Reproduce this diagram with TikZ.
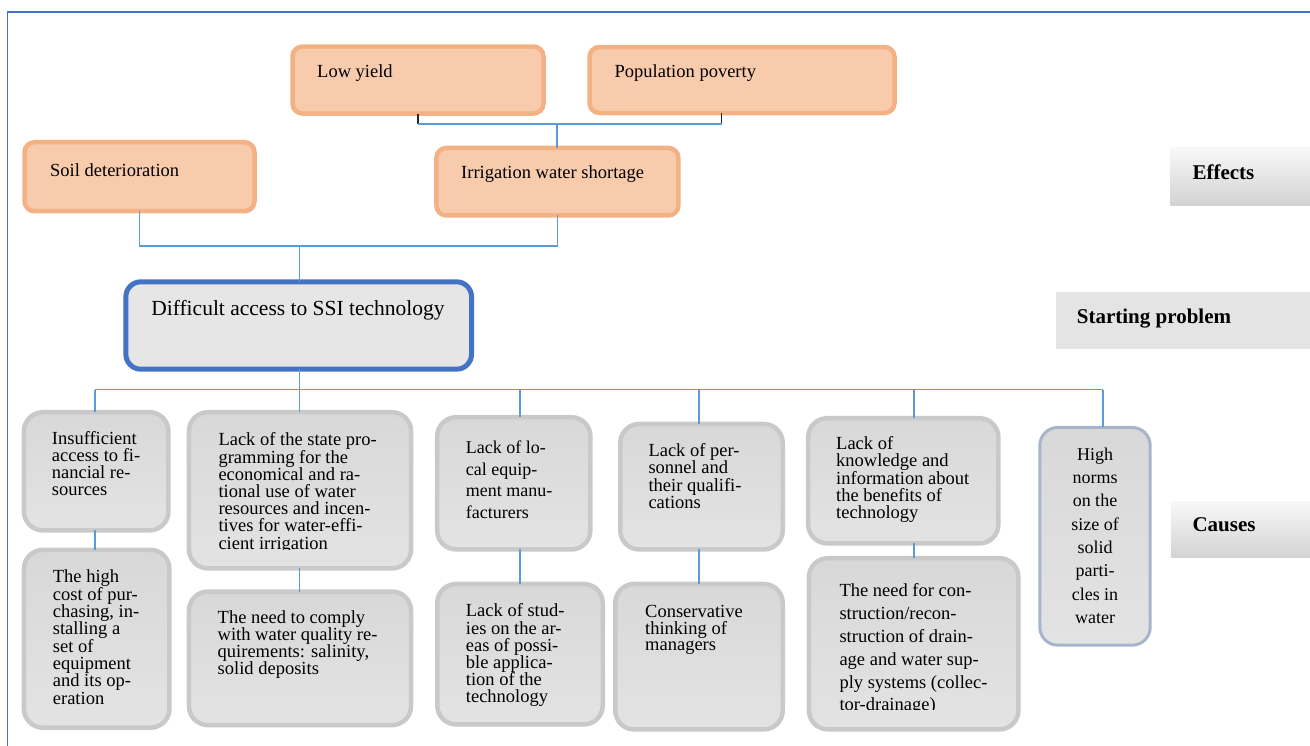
\documentclass[tikz,border=0pt]{standalone}
\usepackage{fontspec}
\setmainfont{Liberation Serif}
\definecolor{efffill}{HTML}{F8CBAD}
\definecolor{effline}{HTML}{F4B183}
\definecolor{probfill}{HTML}{E6E6E6}
\definecolor{blueline}{HTML}{4472C4}
\definecolor{linkblue}{HTML}{5B9BD5}
\definecolor{causeline}{HTML}{C9C9C9}
\definecolor{causetop}{HTML}{D8D8D8}
\definecolor{causebot}{HTML}{E3E3E3}
\definecolor{normline}{HTML}{A6B5CC}
\definecolor{labtop}{HTML}{F8F8F8}
\definecolor{labbot}{HTML}{D3D3D3}
\definecolor{labflat}{HTML}{E4E4E4}
% invisible strut: every text block starts 16pt above its first baseline
\newcommand\fl{\rule{0pt}{16pt}}
% text font with a fixed line pitch
\newcommand\cfont[2]{\fontsize{#1}{#2}\selectfont\lineskiplimit=-50pt\relax}
\tikzset{
  frame/.style={draw=blueline, line width=1.8pt},
  link/.style={draw=linkblue, line width=1.1pt},
  stub/.style={draw=black!85, line width=1.1pt},
  effbox/.style={draw=effline, fill=efffill, line width=4.5pt, rounded corners=10pt, inner sep=0pt, outer sep=0pt},
  probbox/.style={draw=blueline, fill=probfill, line width=5pt, rounded corners=15pt, inner sep=0pt, outer sep=0pt},
  causebox/.style={draw=causeline, top color=causetop, bottom color=causebot, line width=4.5pt, rounded corners=19pt, inner sep=0pt, outer sep=0pt},
  normbox/.style={draw=normline, top color=causetop, bottom color=causebot, line width=3pt, rounded corners=18pt, inner sep=0pt, outer sep=0pt},
  labgrad/.style={top color=labtop, bottom color=labbot, draw=none, inner sep=0pt, outer sep=0pt, anchor=north west},
  labflatbox/.style={fill=labflat, draw=none, inner sep=0pt, outer sep=0pt, anchor=north west},
  txt/.style={anchor=north west, inner sep=0pt, align=left},
  labtxt/.style={txt, font=\fontsize{21}{22}\selectfont\bfseries},
}
\begin{document}
\begin{tikzpicture}[x=1pt,y=-1pt]
\useasboundingbox (0,0) rectangle (1310,745);

% outer frame
\draw[frame] (1312,11.7) -- (7.5,11.7) -- (7.5,747);

% ---- effects ----
\node[effbox, minimum width=251pt, minimum height=67pt] (lowyield) at (418,80) {};
\node[effbox, minimum width=305pt, minimum height=66pt] (poverty) at (742,80) {};
\node[effbox, minimum width=230pt, minimum height=69pt] (soil) at (139.5,176.7) {};
\node[effbox, minimum width=242pt, minimum height=67.5pt] (irrig) at (557.4,181.7) {};

% ---- starting problem ----
\node[probbox, minimum width=345.7pt, minimum height=87.4pt] (problem) at (298.7,325.5) {};

% ---- causes ----
\node[causebox, minimum width=144.5pt, minimum height=118.2pt] (c1) at (96.2,471.3) {};
\node[causebox, minimum width=145.5pt, minimum height=177.8pt] (c1b) at (96.7,638.8) {};
\node[causebox, minimum width=222.1pt, minimum height=156.2pt] (c2) at (300,490.3) {};
\node[causebox, minimum width=222.1pt, minimum height=133.5pt] (c2b) at (300,658.3) {};
\node[causebox, minimum width=153.2pt, minimum height=132.2pt] (c3) at (513.8,483.3) {};
\node[causebox, minimum width=165.5pt, minimum height=140.5pt] (c3b) at (520,654.2) {};
\node[causebox, minimum width=162.5pt, minimum height=125.5pt] (c4) at (701.5,486.7) {};
\node[causebox, minimum width=167.5pt, minimum height=145.5pt] (c4b) at (699,656.7) {};
\node[causebox, minimum width=190.2pt, minimum height=125.2pt] (c5) at (903.3,480.8) {};
\node[causebox, minimum width=209.5pt, minimum height=171.2pt] (c5b) at (913.7,643.8) {};
\node[normbox, minimum width=110.4pt, minimum height=217.7pt] (c6) at (1095,536.3) {};

% ---- level labels ----
\node[labgrad, minimum width=140pt, minimum height=57.3pt] (effects) at (1170.7,147.7) {};
\node[labflatbox, minimum width=255pt, minimum height=56.7pt] (starting) at (1056,292.3) {};
\node[labgrad, minimum width=140pt, minimum height=56.7pt] (causes) at (1171,501) {};

% ---- junction points ----
\coordinate (e1) at (418,124);
\coordinate (e2) at (721.5,124);
\coordinate (e3) at (557,124);
\coordinate (p2) at (299.5,246);
\coordinate (b1) at (95,389.5);
\coordinate (b2) at (299.5,389.5);
\coordinate (b3) at (520,389.5);
\coordinate (b4) at (699,389.5);
\coordinate (b5) at (914,389.5);
\coordinate (b6) at (1103,389.5);

% ---- connectors ----
\draw[stub] (lowyield.south) -- (e1);
\draw[stub] (poverty.south -| e2) -- (e2);
\draw[link] (e1) -- (e2);
\draw[link] (e3) -- (irrig.north -| e3);
\draw[link] (soil.south) |- (p2) -| (irrig.south);
\draw[link] (p2) -- (problem.north -| p2);
\draw[link] (problem.south -| b2) -- (b2);
\draw[link] (b1) -- (b6);
\draw[link] (b1) -- (c1.north -| b1);
\draw[link] (b2) -- (c2.north -| b2);
\draw[link] (b3) -- (c3.north -| b3);
\draw[link] (b4) -- (c4.north -| b4);
\draw[link] (b5) -- (c5.north -| b5);
\draw[link] (b6) -- (c6.north -| b6);
\draw[link] (c1.south -| b1) -- (c1b.north -| b1);
\draw[link] (c2.south -| b2) -- (c2b.north -| b2);
\draw[link] (c3.south -| b3) -- (c3b.north -| b3);
\draw[link] (c4.south -| b4) -- (c4b.north -| b4);
\draw[link] (c5.south -| b5) -- (c5b.north -| b5);

% ---- texts (position = left edge, first baseline - 16) ----
\node[txt, font=\cfont{18.5}{18}] (lowyield-t) at (317,61.3) {\fl Low yield};
\node[txt, font=\cfont{18.5}{18}] (poverty-t) at (614.5,61.3) {\fl Population poverty};
\node[txt, font=\cfont{18.5}{18}] (soil-t) at (50,160) {\fl Soil deterioration};
\node[txt, font=\cfont{18.5}{18}] (irrig-t) at (461,162.3) {\fl Irrigation water shortage};
\node[anchor=north, inner sep=0pt, font=\cfont{21.5}{22}] (problem-t) at (298,299) {\fl Difficult access to SSI technology};

\node[labtxt] (effects-t) at (1192.3,163.3) {\fl Effects};
\node[labtxt] (starting-t) at (1076.7,307.3) {\fl Starting problem};
\node[labtxt] (causes-t) at (1192.3,515) {\fl Causes};

\node[txt, font=\cfont{18.5}{17.2}] (c1-t) at (51.7,428) {\fl Insufficient\\access to fi-\\nancial re-\\sources};
\node[txt, font=\cfont{18.5}{17.3}] (c1b-t) at (52.7,566.7) {\fl The high\\cost of pur-\\chasing, in-\\stalling a\\set of\\equipment\\and its op-\\eration};
% the last line of this block is cut at the bottom of its text area
\begin{scope}
\clip (190,420) rectangle (410,549.3);
\node[txt, font=\cfont{18.5}{17.2}] (c2-t) at (218.3,429.7) {\fl Lack of the state pro-\\gramming for the\\economical and ra-\\tional use of water\\resources and incen-\\tives for water-effi-\\cient irrigation};
\end{scope}
\node[txt, font=\cfont{18.5}{17}] (c2b-t) at (217.5,607.3) {\fl The need to comply\\with water quality re-\\quirements: salinity,\\solid deposits};
\node[txt, font=\cfont{18}{21.7}] (c3-t) at (465.7,437.3) {\fl Lack of lo-\\cal equip-\\ment manu-\\facturers};
\node[txt, font=\cfont{18.5}{17.1}] (c3b-t) at (465.7,600.7) {\fl Lack of stud-\\ies on the ar-\\eas of possi-\\ble applica-\\tion of the\\technology};
\node[txt, font=\cfont{18.5}{17.2}] (c4-t) at (648.3,440.5) {\fl Lack of per-\\sonnel and\\their qualifi-\\cations};
\node[txt, font=\cfont{18.5}{16.7}] (c4b-t) at (645,601.3) {\fl Conservative\\thinking of\\managers};
\node[txt, font=\cfont{18.5}{17.3}] (c5-t) at (836,433.3) {\fl Lack of\\knowledge and\\information about\\the benefits of\\technology};
% the last line of this block is cut at the bottom of its text area
\begin{scope}
\clip (810,560) rectangle (1015,709.3);
\node[txt, font=\cfont{18.5}{22.8}] (c5b-t) at (839.3,580.7) {\fl The need for con-\\struction/recon-\\struction of drain-\\age and water sup-\\ply systems (collec-\\tor-drainage)};
\end{scope}
\node[anchor=north, inner sep=0pt, align=center, font=\cfont{18}{23.3}] (c6-t) at (1095,444) {\fl High\\norms\\on the\\size of\\solid\\parti-\\cles in\\water};
\end{tikzpicture}
\end{document}
